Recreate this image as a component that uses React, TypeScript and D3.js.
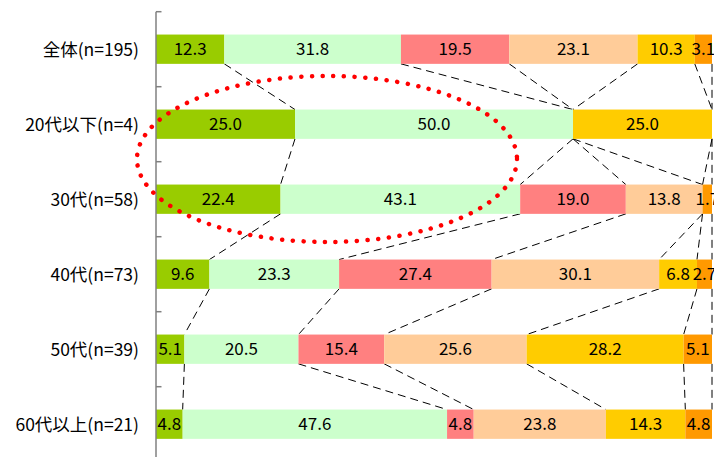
import React from 'react';
import * as d3 from 'd3';

const categories = ['全体(n=195)', '20代以下(n=4)', '30代(n=58)', '40代(n=73)', '50代(n=39)', '60代以上(n=21)'];
const s1 = [12.3, 25.0, 22.4, 9.6, 5.1, 4.8];
const s2 = [31.8, 50.0, 43.1, 23.3, 20.5, 47.6];
const s3 = [19.5, 0, 19.0, 27.4, 15.4, 4.8];
const s4 = [23.1, 0, 13.8, 30.1, 25.6, 23.8];
const s5 = [10.3, 25.0, 0, 6.8, 28.2, 14.3];
const s6 = [3.1, 0, 1.7, 2.7, 5.1, 4.8];
const seriesList = [s1, s2, s3, s4, s5, s6];
const colors = ['#99CC00', '#CCFFCC', '#FF8080', '#FFCC99', '#FFCC00', '#FF9900'];

const W = 714;
const H = 457;
const FONT = '"Noto Sans CJK JP", "Noto Sans", sans-serif';

export default function App() {
  const x = d3.scaleLinear().domain([0, 100]).range([156, 712]);
  const y = d3.scaleBand<string>().domain(categories).range([11.7, 461.7]).paddingInner(0.61).paddingOuter(0.305);
  const bw = 29.3;

  const rows = categories.map((c, i) => {
    const vals = seriesList.map((s) => s[i]);
    const total = d3.sum(vals);
    let acc = 0;
    const segs = vals.map((v, k) => {
      const x0 = (acc / total) * 100;
      acc += v;
      const x1 = (acc / total) * 100;
      return { v, k, x0, x1 };
    });
    const yc = (y(c) as number) + y.bandwidth() / 2;
    return { c, segs, yc };
  });

  const step = 75;
  const ticks = d3.range(categories.length + 1).map((i) => 11.7 + i * step);

  return (
    <svg width={W} height={H} style={{ position: 'fixed', left: 0, top: 0, background: '#fff' }} fontFamily={FONT}>
      {/* series lines */}
      {rows.slice(0, -1).map((r, i) => {
        const nx = rows[i + 1];
        return r.segs.map((sg, k) => (
          <line
            key={`l${i}-${k}`}
            x1={x(sg.x1)}
            y1={r.yc + bw / 2}
            x2={x(nx.segs[k].x1)}
            y2={nx.yc - bw / 2}
            stroke="#000"
            strokeWidth={1}
            strokeDasharray="8,5"
          />
        ));
      })}
      {/* bars */}
      {rows.map((r) =>
        r.segs.map((sg) =>
          sg.v > 0 ? (
            <rect
              key={`${r.c}-${sg.k}`}
              x={x(sg.x0)}
              y={r.yc - bw / 2}
              width={x(sg.x1) - x(sg.x0)}
              height={bw}
              fill={colors[sg.k]}
            />
          ) : null
        )
      )}
      {/* value labels */}
      {rows.map((r) =>
        r.segs.map((sg) =>
          sg.v > 0 ? (
            <text
              key={`t${r.c}-${sg.k}`}
              x={(x(sg.x0) + x(sg.x1)) / 2}
              y={r.yc}
              dy="0.36em"
              textAnchor="middle"
              fontSize={17}
              fill="#000"
            >
              {sg.v.toFixed(1)}
            </text>
          ) : null
        )
      )}
      {/* axis */}
      <line x1={156} y1={11.7} x2={156} y2={461.7} stroke="#808080" strokeWidth={1.5} />
      {ticks.map((t, i) => (
        <line key={`tk${i}`} x1={156} y1={t} x2={161.5} y2={t} stroke="#808080" strokeWidth={1.5} />
      ))}
      {rows.map((r) => (
        <text key={`c${r.c}`} x={139} y={r.yc} dy="0.36em" textAnchor="end" fontSize={17.5} fill="#000">
          {r.c}
        </text>
      ))}
      {/* red dotted ellipse */}
      <ellipse
        cx={327}
        cy={159}
        rx={190}
        ry={83}
        fill="none"
        stroke="#FF0000"
        strokeWidth={4.5}
        strokeLinecap="round"
        strokeDasharray="0.1,10.6"
      />
    </svg>
  );
}
